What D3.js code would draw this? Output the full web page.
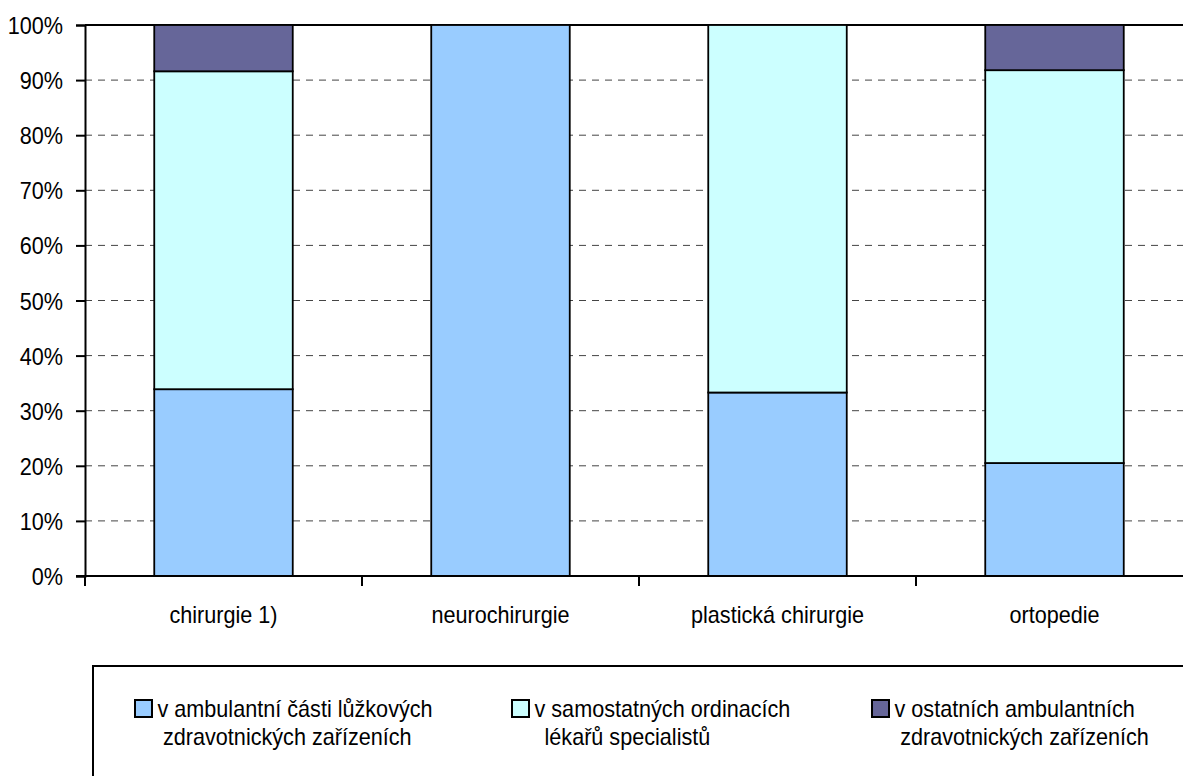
<!DOCTYPE html>
<html><head><meta charset="utf-8">
<script src="https://cdn.jsdelivr.net/npm/d3@7/dist/d3.min.js"></script>
<style>body{margin:0;background:#fff;overflow:hidden}svg{display:block}text{font-family:"Liberation Sans",Arial,sans-serif;fill:#000}</style>
</head><body><svg id="c" width="1183" height="776"></svg>
<script>
const categories = ["chirurgie 1)", "neurochirurgie", "plastická chirurgie", "ortopedie"];
const seriesNames = [
  ["v ambulantní části lůžkových", "zdravotnických zařízeních"],
  ["v samostatných ordinacích", "lékařů specialistů"],
  ["v ostatních ambulantních", "zdravotnických zařízeních"]
];
const ambulantniLuzkova = [33.9, 100, 33.3, 20.5];
const samostatneOrdinace = [57.7, 0, 66.7, 71.3];
const ostatniAmbulantni = [8.4, 0, 0, 8.2];
const colors = ["#99ccff", "#ccffff", "#666699"];
const yTicks = [0,10,20,30,40,50,60,70,80,90,100];

const FS = 23, SX = 0.94;
const svg = d3.select("#c");
const L = 85, T = 25, B = 576, R = 85 + 277*4;
const x = d3.scaleBand().domain(categories).range([L, R]).paddingInner(0.5).paddingOuter(0.25);
const xb = d3.scaleBand().domain(categories).range([L, R]);
const y = d3.scaleLinear().domain([0,100]).range([B, T]);

// gridlines
svg.append("g").selectAll("line").data(yTicks.filter(d=>d>0 && d<100)).join("line")
  .attr("x1", L).attr("x2", R).attr("y1", d=>y(d)).attr("y2", d=>y(d))
  .attr("stroke", "#444").attr("stroke-width", 1).attr("stroke-dasharray", "7,6");
svg.append("line").attr("x1", L).attr("x2", R).attr("y1", y(100)).attr("y2", y(100))
  .attr("stroke", "#000").attr("stroke-width", 2);

// stacked bars
const data = categories.map((c,i)=>({cat:c, s0:ambulantniLuzkova[i], s1:samostatneOrdinace[i], s2:ostatniAmbulantni[i]}));
const stack = d3.stack().keys(["s0","s1","s2"])(data);
stack.forEach((layer, li) => {
  svg.append("g").selectAll("rect").data(layer.filter(d=>d[1]-d[0]>0)).join("rect")
    .attr("x", d=>x(d.data.cat)).attr("width", x.bandwidth())
    .attr("y", d=>y(d[1])).attr("height", d=>y(d[0])-y(d[1]))
    .attr("fill", colors[li]).attr("stroke", "#000").attr("stroke-width", 1.8);
});

// y axis
const yAxis = svg.append("g").attr("transform", `translate(${L},0)`)
  .call(d3.axisLeft(y).tickValues(yTicks).tickFormat(d=>d+"%").tickSize(9).tickPadding(13));
yAxis.select(".domain").attr("stroke", "#000").attr("stroke-width", 2);
yAxis.selectAll(".tick line").attr("stroke", "#000").attr("stroke-width", 2);
yAxis.selectAll(".tick text").attr("font-size", FS).attr("font-family", "Liberation Sans, Arial, sans-serif")
  .attr("fill","#000").attr("x", 0).attr("dy", null)
  .attr("transform", `translate(-22,8.5) scale(${SX},1)`);

// x axis
const xAxis = svg.append("g").attr("transform", `translate(0,${B})`);
xAxis.append("line").attr("x1", L-9).attr("x2", R).attr("stroke", "#000").attr("stroke-width", 2);
xAxis.selectAll(".tk").data(categories).join("line").attr("class","tk")
  .attr("x1", d=>xb(d)).attr("x2", d=>xb(d)).attr("y1", 0).attr("y2", 10)
  .attr("stroke", "#000").attr("stroke-width", 2);
xAxis.selectAll("text").data(categories).join("text")
  .attr("transform", d=>`translate(${xb(d)+xb.bandwidth()/2},47) scale(${SX},1)`)
  .attr("text-anchor","middle").attr("font-size", FS).text(d=>d);

// legend
svg.append("rect").attr("x", 93).attr("y", 666).attr("width", 1183).attr("height", 200)
  .attr("fill", "none").attr("stroke", "#000").attr("stroke-width", 2);
const legX = [135, 512, 872];
const line2Off = [5.5, 10, 5.7];
const lg = svg.append("g").selectAll("g").data(seriesNames).join("g")
  .attr("transform", (d,i)=>`translate(${legX[i]},0)`);
lg.append("rect").attr("x", 0).attr("y", 700).attr("width", 17).attr("height", 17)
  .attr("fill", (d,i)=>colors[i]).attr("stroke", "#000").attr("stroke-width", 2);
lg.append("text").attr("transform", `translate(22.5,717) scale(${SX},1)`).attr("font-size", FS).text(d=>d[0]);
lg.append("text").attr("transform", (d,i)=>`translate(${22.5+line2Off[i]},745) scale(${SX},1)`).attr("font-size", FS).text(d=>d[1]);
</script></body></html>
